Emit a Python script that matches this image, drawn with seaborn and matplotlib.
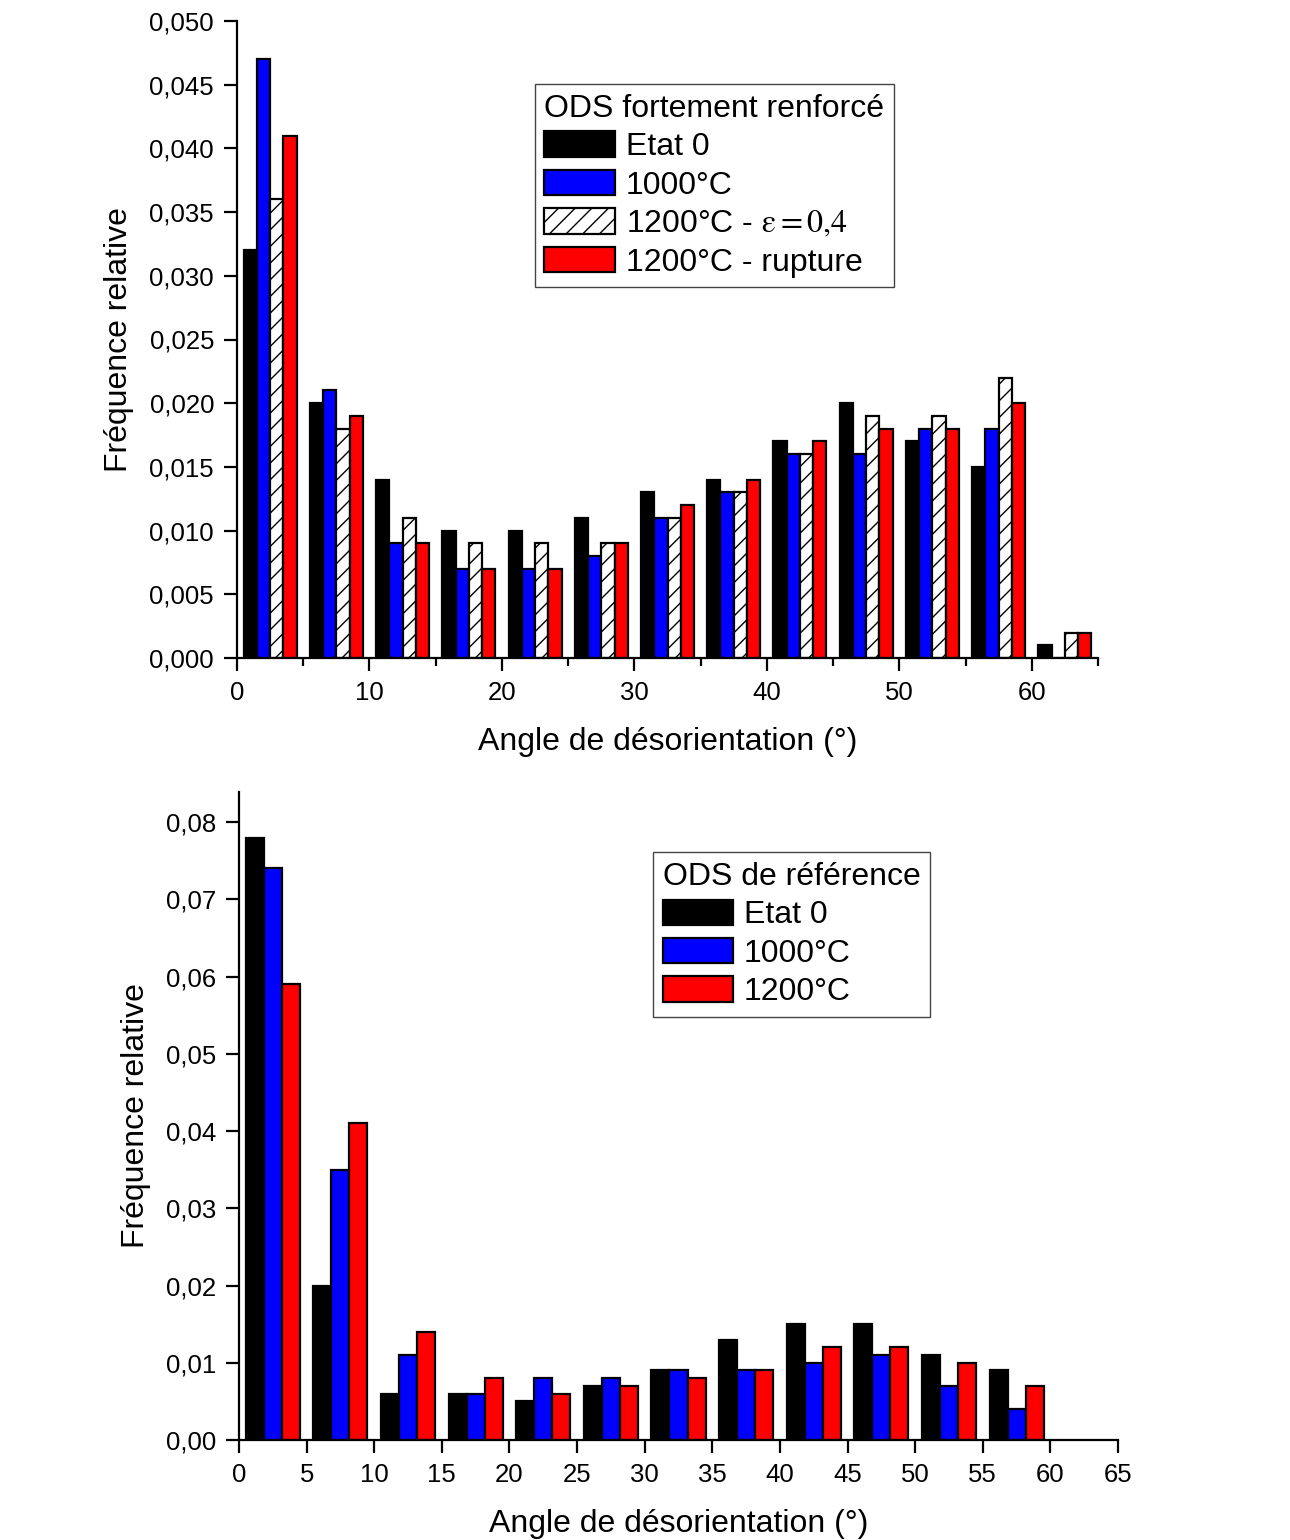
import numpy as np
import pandas as pd
import matplotlib
matplotlib.use("Agg")
import matplotlib.pyplot as plt
import seaborn as sns
from matplotlib.patches import Patch
from matplotlib.ticker import FuncFormatter, MultipleLocator

# ---------------- data ----------------
# bin centres of the misorientation-angle histogram (5° bins)
angles_top = [2.5, 7.5, 12.5, 17.5, 22.5, 27.5, 32.5, 37.5, 42.5, 47.5, 52.5, 57.5, 62.5]
etat0_top = [0.032, 0.020, 0.014, 0.010, 0.010, 0.011, 0.013, 0.014, 0.017, 0.020, 0.017, 0.015, 0.001]
t1000_top = [0.047, 0.021, 0.009, 0.007, 0.007, 0.008, 0.011, 0.013, 0.016, 0.016, 0.018, 0.018, 0.000]
t1200_eps_top = [0.036, 0.018, 0.011, 0.009, 0.009, 0.009, 0.011, 0.013, 0.016, 0.019, 0.019, 0.022, 0.002]
t1200_rup_top = [0.041, 0.019, 0.009, 0.007, 0.007, 0.009, 0.012, 0.014, 0.017, 0.018, 0.018, 0.020, 0.002]
series_top = ["Etat 0", "1000°C", "1200°C - eps", "1200°C - rupture"]
labels_top = ["Etat 0", "1000°C", "1200°C - $\\mathrm{ε{=}0{,}4}$", "1200°C - rupture"]
title_top = "ODS fortement renforcé"

angles_bot = [2.5, 7.5, 12.5, 17.5, 22.5, 27.5, 32.5, 37.5, 42.5, 47.5, 52.5, 57.5]
etat0_bot = [0.078, 0.020, 0.006, 0.006, 0.005, 0.007, 0.009, 0.013, 0.015, 0.015, 0.011, 0.009]
t1000_bot = [0.074, 0.035, 0.011, 0.006, 0.008, 0.008, 0.009, 0.009, 0.010, 0.011, 0.007, 0.004]
t1200_bot = [0.059, 0.041, 0.014, 0.008, 0.006, 0.007, 0.008, 0.009, 0.012, 0.012, 0.010, 0.007]
series_bot = ["Etat 0", "1000°C", "1200°C"]
labels_bot = ["Etat 0", "1000°C", "1200°C"]
title_bot = "ODS de référence"

xlabel = "Angle de désorientation (°)"
ylabel = "Fréquence relative"

colors_top = ["#000000", "#0000ff", "#ffffff", "#ff0000"]
hatches_top = ["", "", "//", ""]
colors_bot = ["#000000", "#0000ff", "#ff0000"]

# ---------------- style ----------------
sns.set_style("ticks")
plt.rcParams["font.family"] = ["Liberation Sans", "DejaVu Sans"]
plt.rcParams["mathtext.fontset"] = "stix"
plt.rcParams["hatch.linewidth"] = 1.0
plt.rcParams["text.color"] = "black"
plt.rcParams["axes.labelcolor"] = "black"

fig = plt.figure(figsize=(12.9, 15.4), dpi=100)
fig.patch.set_facecolor("white")

ax1 = fig.add_axes([237 / 1290, 1 - 658 / 1540, 861 / 1290, 637 / 1540])
ax2 = fig.add_axes([239 / 1290, 1 - 1440 / 1540, 879 / 1290, 648 / 1540])

df_top = pd.DataFrame({
    "angle": list(angles_top) * 4,
    "freq": etat0_top + t1000_top + t1200_eps_top + t1200_rup_top,
    "serie": sum([[s] * len(angles_top) for s in series_top], []),
})
df_bot = pd.DataFrame({
    "angle": list(angles_bot) * 3,
    "freq": etat0_bot + t1000_bot + t1200_bot,
    "serie": sum([[s] * len(angles_bot) for s in series_bot], []),
})

LW = 1.6
sns.barplot(data=df_top, x="angle", y="freq", hue="serie", hue_order=series_top,
            palette=dict(zip(series_top, colors_top)), native_scale=True, width=0.8,
            dodge=True, edgecolor="black", linewidth=LW, saturation=1,
            errorbar=None, legend=False, ax=ax1)
for cont, h in zip(ax1.containers, hatches_top):
    for bar in cont:
        if h:
            bar.set_hatch(h)

sns.barplot(data=df_bot, x="angle", y="freq", hue="serie", hue_order=series_bot,
            palette=dict(zip(series_bot, colors_bot)), native_scale=True, width=0.8,
            dodge=True, edgecolor="black", linewidth=LW, saturation=1,
            errorbar=None, legend=False, ax=ax2)

TICK_FS = 18.5
LABEL_FS = 23

def style_axes(ax, ylim, ymaj, fmt, xmaj, xmin):
    ax.set_xlim(0, 65)
    ax.set_ylim(*ylim)
    ax.yaxis.set_major_locator(MultipleLocator(ymaj))
    ax.yaxis.set_major_formatter(FuncFormatter(lambda v, p: fmt.format(v).replace(".", ",")))
    ax.xaxis.set_major_locator(MultipleLocator(xmaj))
    if xmin:
        ax.xaxis.set_minor_locator(MultipleLocator(xmin))
    ax.xaxis.set_major_formatter(FuncFormatter(lambda v, p: f"{v:.0f}"))
    for s in ["top", "right"]:
        ax.spines[s].set_visible(False)
    for s in ["left", "bottom"]:
        ax.spines[s].set_linewidth(1.6)
        ax.spines[s].set_color("black")
    ax.tick_params(axis="both", which="major", direction="out", length=9.5, width=1.6,
                   labelsize=TICK_FS, pad=7, colors="black")
    ax.tick_params(axis="x", which="minor", direction="out", length=5.5, width=1.6, colors="black")
    ax.set_xlabel(xlabel, fontsize=LABEL_FS, labelpad=16)
    ax.set_ylabel(ylabel, fontsize=LABEL_FS, labelpad=11)
    ax.set_facecolor("white")
    ax.grid(False)

style_axes(ax1, (0, 0.050), 0.005, "{:.3f}", 10, 5)
style_axes(ax2, (0, 0.0839), 0.01, "{:.2f}", 5, None)

def make_legend(ax, labels, colors, hatches, title, anchor):
    handles = [Patch(facecolor=c, edgecolor="black", linewidth=LW, hatch=h)
               for c, h in zip(colors, hatches)]
    leg = ax.legend(handles=handles, labels=labels, title=title, loc="upper left",
                    bbox_to_anchor=anchor, borderaxespad=0, fontsize=LABEL_FS,
                    title_fontsize=LABEL_FS, alignment="left", frameon=True,
                    fancybox=False, framealpha=1, edgecolor="#444444",
                    handlelength=2.2, handleheight=0.85, handletextpad=0.35,
                    labelspacing=0.24, borderpad=0.3)
    leg.get_frame().set_linewidth(1.0)
    return leg

make_legend(ax1, labels_top, colors_top, hatches_top, title_top, (0.346, 0.901))
make_legend(ax2, labels_bot, colors_bot, ["", "", ""], title_bot, (0.471, 0.907))

fig.savefig("out.png", dpi=100, facecolor="white")
